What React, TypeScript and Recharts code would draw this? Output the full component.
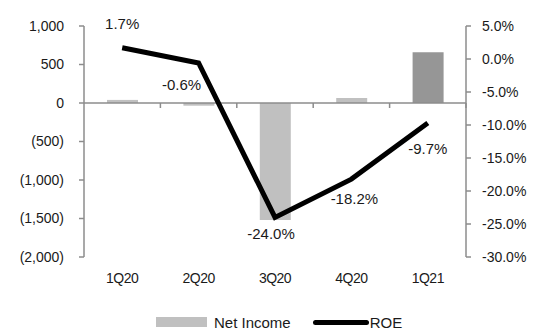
import React from 'react';
import { ComposedChart, Bar, Line, XAxis, YAxis, ReferenceLine, LabelList, Cell, Legend } from 'recharts';

const quarters = ['1Q20', '2Q20', '3Q20', '4Q20', '1Q21'];
const netIncome = [40, -35, -1520, 65, 660];
const roe = [1.7, -0.6, -24.0, -18.2, -9.7];
const roeLabels = ['1.7%', '-0.6%', '-24.0%', '-18.2%', '-9.7%'];
const leftTicks = [-2000, -1500, -1000, -500, 0, 500, 1000];
const rightTicks = [-30, -25, -20, -15, -10, -5, 0, 5];

// styling only
const barColors = ['#c0c0c0', '#c0c0c0', '#c0c0c0', '#c0c0c0', '#969696'];
const labelOffsets = [
  [0, -24],
  [-17, 22],
  [-4, 16],
  [3, 19],
  [0, 25],
];

const data = quarters.map((q, i) => ({ q, ni: netIncome[i], roe: roe[i], lbl: roeLabels[i] }));

const FONT = '"Liberation Sans", Arial, sans-serif';
const AXIS = '#8c8c8c';
const TXT = '#1a1a1a';

const fmtLeft = (v: number) => {
  const s = Math.abs(v).toLocaleString('en-US');
  return v < 0 ? `(${s})` : s;
};
const fmtRight = (v: number) => `${v.toFixed(1)}%`;

const ZeroLine = (props: any) => {
  const { x1, y1, x2, y2 } = props;
  const n = quarters.length;
  const step = (x2 - x1) / n;
  const ticks = [];
  for (let i = 1; i <= n; i++) {
    const x = x1 + step * i;
    ticks.push(<line key={i} x1={x} x2={x} y1={y1} y2={y1 + 5} stroke={AXIS} strokeWidth={1.5} />);
  }
  return (
    <g>
      <line x1={x1} x2={x2} y1={y1} y2={y2} stroke={AXIS} strokeWidth={1.5} />
      {ticks}
    </g>
  );
};

const RoeLabel = (props: any) => {
  const { x, y, index, value } = props;
  const [dx, dy] = labelOffsets[index] || [0, 0];
  return (
    <text
      x={x + dx}
      y={y + dy}
      textAnchor="middle"
      dominantBaseline="central"
      fontFamily={FONT}
      fontSize={15}
      fill={TXT}
    >
      {value}
    </text>
  );
};

const LegendContent = () => (
  <div
    style={{
      width: 534,
      height: 43,
      display: 'flex',
      alignItems: 'flex-end',
      paddingLeft: 156,
      boxSizing: 'border-box',
      paddingBottom: 0,
      fontFamily: FONT,
      fontSize: 15,
      color: TXT,
    }}
  >
    <div style={{ display: 'flex', alignItems: 'center', height: 16 }}>
      <span style={{ display: 'inline-block', width: 51, height: 10, background: '#c0c0c0', marginRight: 7 }} />
      <span>Net Income</span>
      <span
        style={{
          display: 'inline-block',
          width: 56,
          height: 5,
          background: '#000',
          borderRadius: 3,
          marginLeft: 22,
          marginRight: 1,
        }}
      />
      <span>ROE</span>
    </div>
  </div>
);

export default function App() {
  return (
    <div style={{ position: 'absolute', left: 0, top: 0, width: 534, height: 330, background: '#fff' }}>
      <ComposedChart width={534} height={330} data={data} margin={{ top: 26, right: 0, bottom: 0, left: 0 }}>
        <XAxis
          dataKey="q"
          height={30}
          axisLine={false}
          tickLine={false}
          tickSize={0}
          tickMargin={16}
          interval={0}
          tick={{ fontFamily: FONT, fontSize: 14, fill: TXT, letterSpacing: -0.5 }}
        />
        <YAxis
          yAxisId="left"
          orientation="left"
          width={84}
          domain={[-2000, 1000]}
          ticks={leftTicks}
          tickFormatter={fmtLeft}
          axisLine={{ stroke: AXIS, strokeWidth: 1.5 }}
          tickLine={{ stroke: AXIS, strokeWidth: 1.5 }}
          tickSize={5}
          tickMargin={15}
          interval={0}
          tick={{ fontFamily: FONT, fontSize: 14, fill: TXT }}
        />
        <YAxis
          yAxisId="right"
          orientation="right"
          width={68}
          domain={[-30, 5]}
          ticks={rightTicks}
          tickFormatter={fmtRight}
          axisLine={{ stroke: AXIS, strokeWidth: 1.5 }}
          tickLine={{ stroke: AXIS, strokeWidth: 1.5 }}
          tickSize={5}
          tickMargin={11}
          interval={0}
          tick={{ fontFamily: FONT, fontSize: 14, fill: TXT }}
        />
        <Legend verticalAlign="bottom" content={<LegendContent />} wrapperStyle={{ left: 0, bottom: 0, width: 534 }} />
        <Bar yAxisId="left" dataKey="ni" name="Net Income" barSize={31} isAnimationActive={false}>
          {data.map((d, i) => (
            <Cell key={d.q} fill={barColors[i]} />
          ))}
        </Bar>
        <ReferenceLine yAxisId="left" y={0} shape={ZeroLine} />
        <Line
          yAxisId="right"
          dataKey="roe"
          name="ROE"
          stroke="#000"
          strokeWidth={5}
          dot={false}
          activeDot={false}
          isAnimationActive={false}
        >
          <LabelList dataKey="lbl" content={<RoeLabel />} />
        </Line>
      </ComposedChart>
    </div>
  );
}
